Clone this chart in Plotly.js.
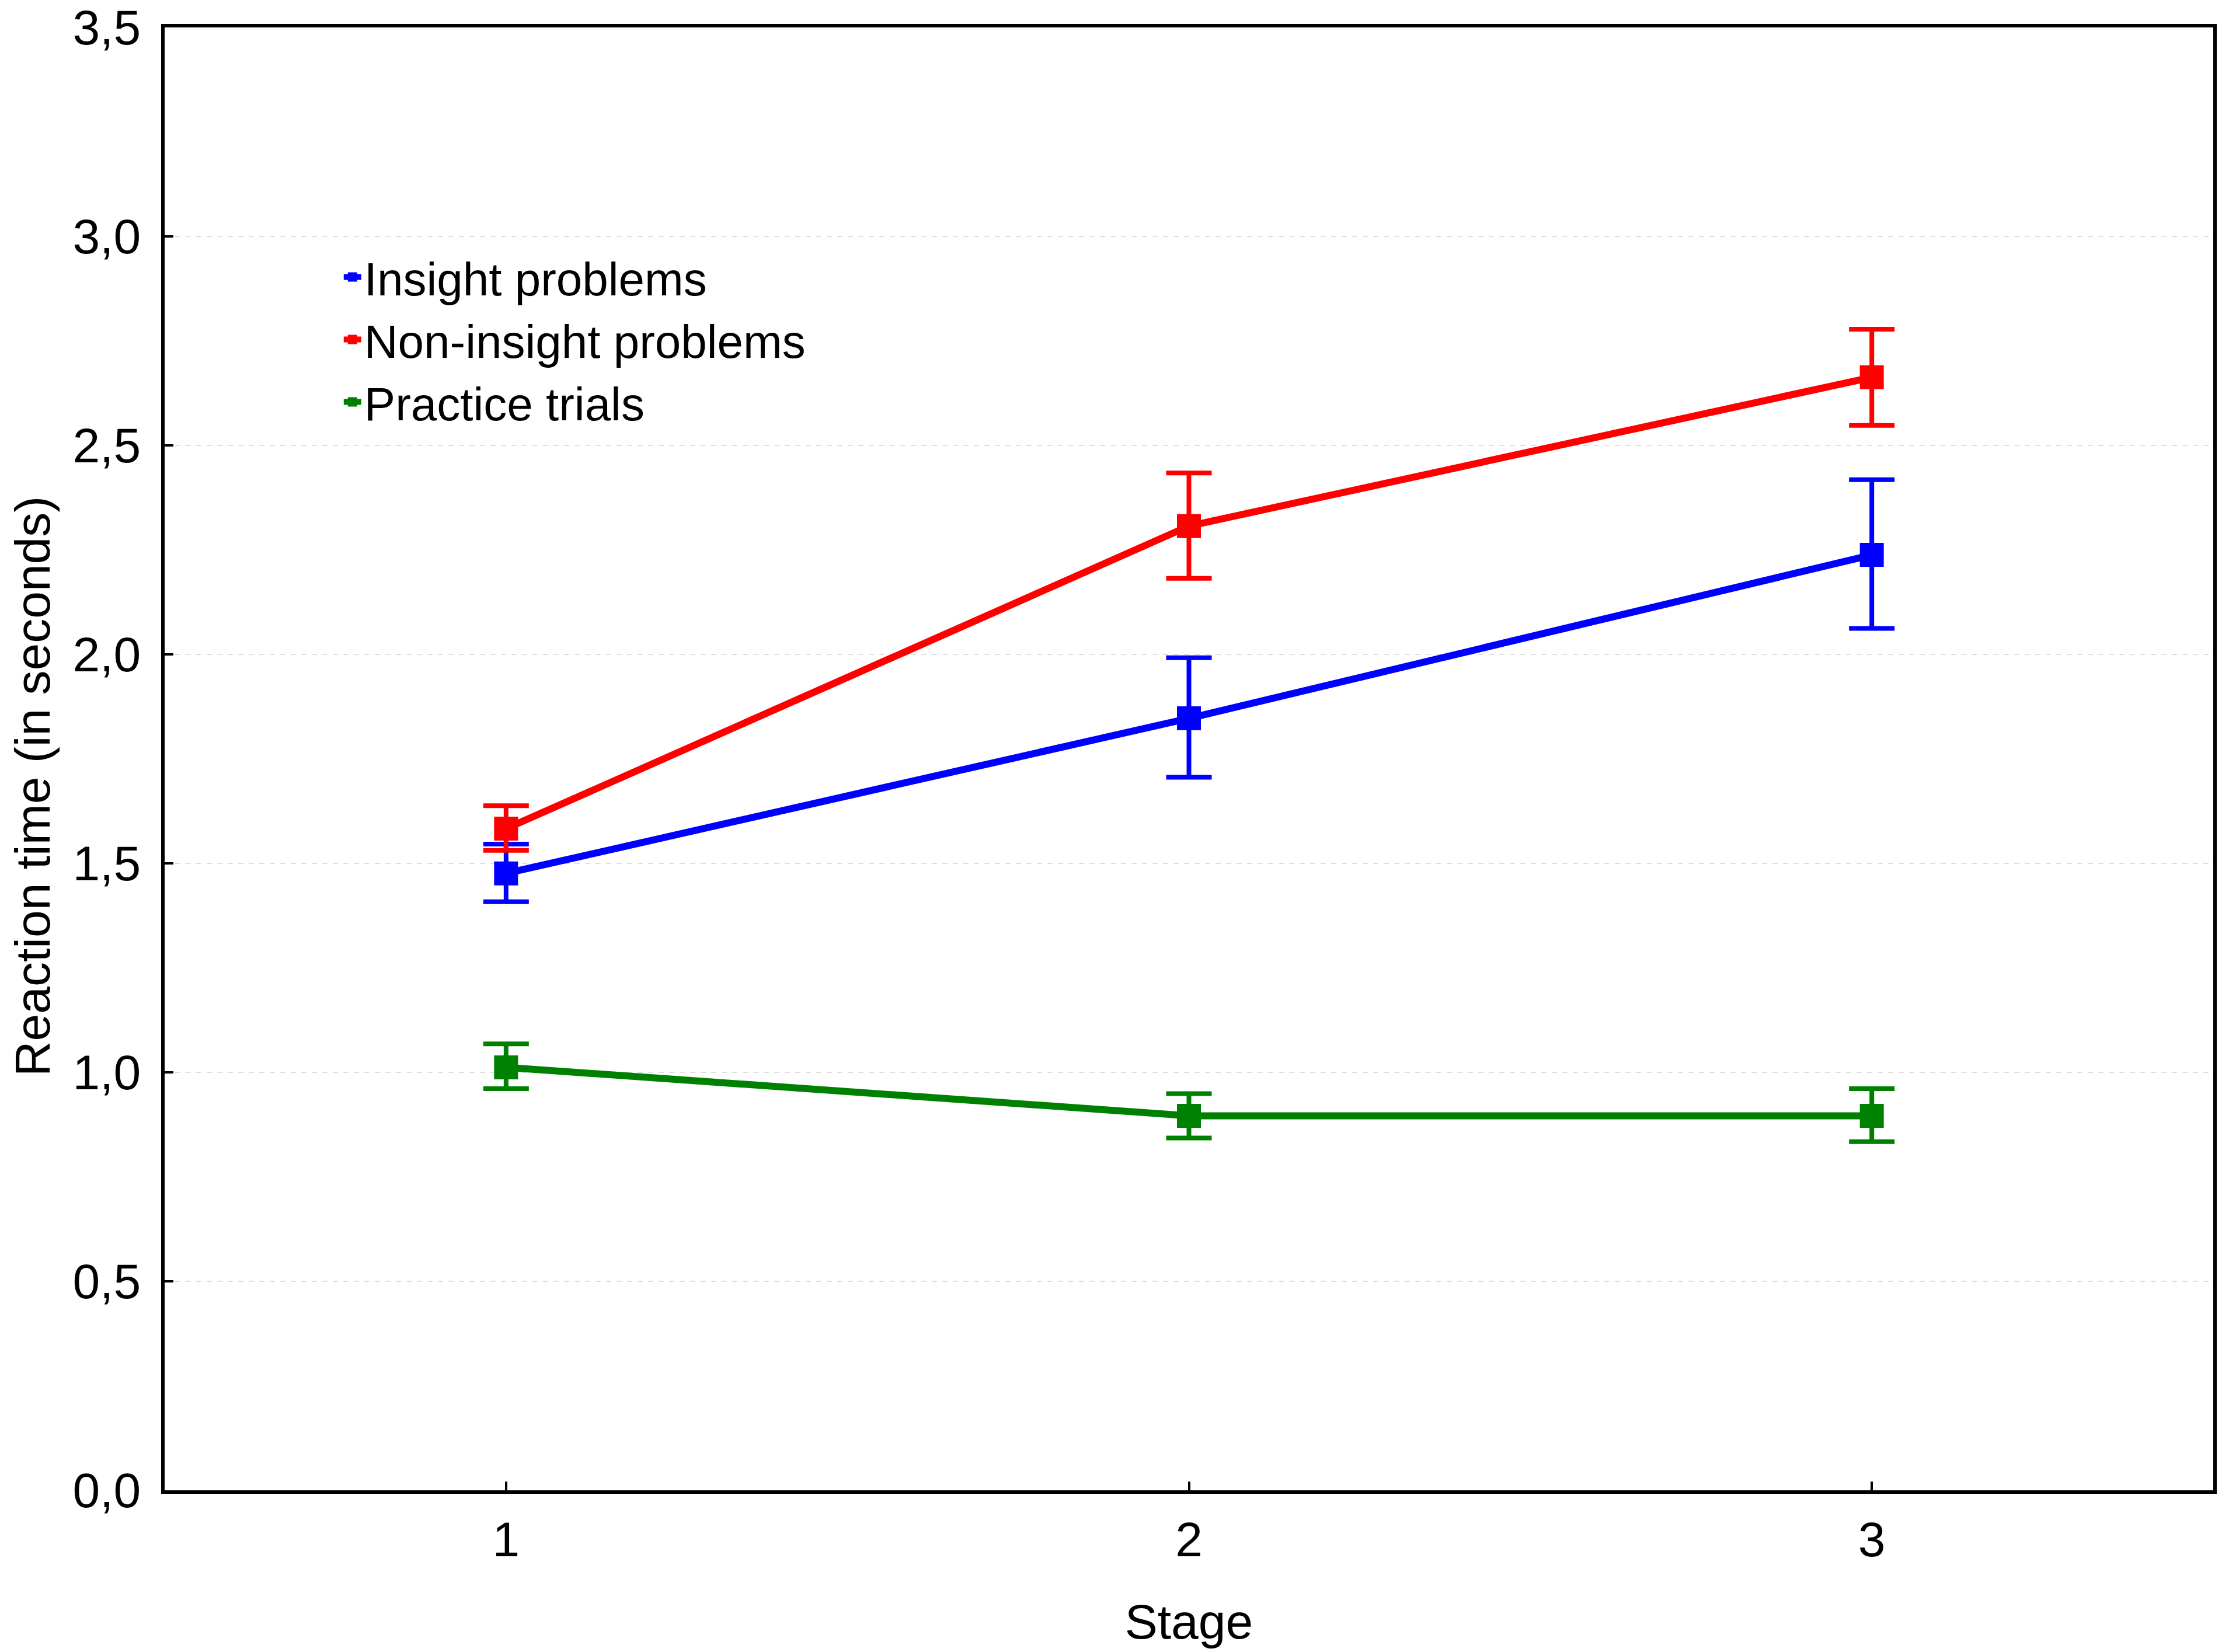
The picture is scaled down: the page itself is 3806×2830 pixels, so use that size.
<!DOCTYPE html>
<html>
<head>
<meta charset="utf-8">
<script src="https://cdn.plot.ly/plotly-3.0.1.min.js"></script>
<style>html,body{margin:0;padding:0;background:#fff;}#chart{width:3806px;height:2830px;}</style>
</head>
<body>
<div id="chart"></div>
<script>
// Data
const stages = [1, 2, 3];
const seriesNames = ["Insight problems", "Non-insight problems", "Practice trials"];

const insightMean  = [1.476, 1.847, 2.238];
const insightUpper = [1.546, 1.992, 2.418];
const insightLower = [1.408, 1.706, 2.062];

const nonInsightMean  = [1.583, 2.307, 2.663];
const nonInsightUpper = [1.638, 2.434, 2.778];
const nonInsightLower = [1.531, 2.182, 2.548];

const practiceMean  = [1.012, 0.896, 0.896];
const practiceUpper = [1.068, 0.949, 0.961];
const practiceLower = [0.961, 0.843, 0.834];

const yTickVals = [0, 0.5, 1, 1.5, 2, 2.5, 3, 3.5];
const xTickVals = [1, 2, 3];
const xTitle = "Stage";
const yTitle = "Reaction time (in seconds)";

const colors = ["#0000FF", "#FF0000", "#008000"];
const FONT = "Liberation Sans, Arial, sans-serif";

function makeTrace(name, mean, upper, lower, color) {
  return {
    type: "scatter",
    mode: "lines+markers",
    name: name,
    x: stages,
    y: mean,
    line: {color: color, width: 12},
    marker: {symbol: "square", size: 41, color: color, line: {width: 0}},
    error_y: {
      type: "data",
      symmetric: false,
      array: upper.map((u, i) => u - mean[i]),
      arrayminus: lower.map((l, i) => mean[i] - l),
      color: color,
      thickness: 8,
      width: 39
    }
  };
}

const data = [
  makeTrace(seriesNames[0], insightMean, insightUpper, insightLower, colors[0]),
  makeTrace(seriesNames[1], nonInsightMean, nonInsightUpper, nonInsightLower, colors[1]),
  makeTrace(seriesNames[2], practiceMean, practiceUpper, practiceLower, colors[2])
];

const layout = {
  width: 3806,
  height: 2830,
  paper_bgcolor: "#ffffff",
  plot_bgcolor: "#ffffff",
  separators: ",.",
  font: {family: FONT, size: 84, color: "#000"},
  margin: {l: 282, r: 15, t: 47, b: 277, pad: 0},
  showlegend: true,
  legend: {
    x: 0.086, y: 0.8528, xanchor: "left", yanchor: "top",
    bgcolor: "rgba(0,0,0,0)", borderwidth: 0,
    font: {family: FONT, size: 80, color: "#000"},
    itemsizing: "trace"
  },
  xaxis: {
    range: [0.5, 3.5],
    tickvals: xTickVals,
    ticktext: xTickVals.map(String),
    ticks: "inside", ticklen: 15, tickwidth: 4, tickcolor: "#000",
    showline: true, linecolor: "#000", linewidth: 6, mirror: true,
    showgrid: false, zeroline: false,
    ticklabelstandoff: 6,
    ticklabeloverflow: "allow",
    tickfont: {family: FONT, size: 84, color: "#000"},
    title: {text: xTitle, font: {family: FONT, size: 84, color: "#000"}, standoff: 67}
  },
  yaxis: {
    range: [0, 3.5],
    tickvals: yTickVals,
    tickformat: ".1f",
    ticks: "inside", ticklen: 15, tickwidth: 4, tickcolor: "#000",
    showline: true, linecolor: "#000", linewidth: 6, mirror: true,
    showgrid: true, gridcolor: "#dedede", gridwidth: 2, griddash: "dash",
    zeroline: false,
    ticklabelstandoff: 18,
    ticklabeloverflow: "allow",
    tickfont: {family: FONT, size: 84, color: "#000"}
  },
  annotations: [{
    text: yTitle,
    xref: "paper", yref: "paper",
    x: -0.0644, y: 0.4812,
    xanchor: "center", yanchor: "middle",
    textangle: -90, showarrow: false,
    font: {family: FONT, size: 84, color: "#000"}
  }]
};

Plotly.newPlot("chart", data, layout, {displayModeBar: false, staticPlot: true});
</script>
</body>
</html>
